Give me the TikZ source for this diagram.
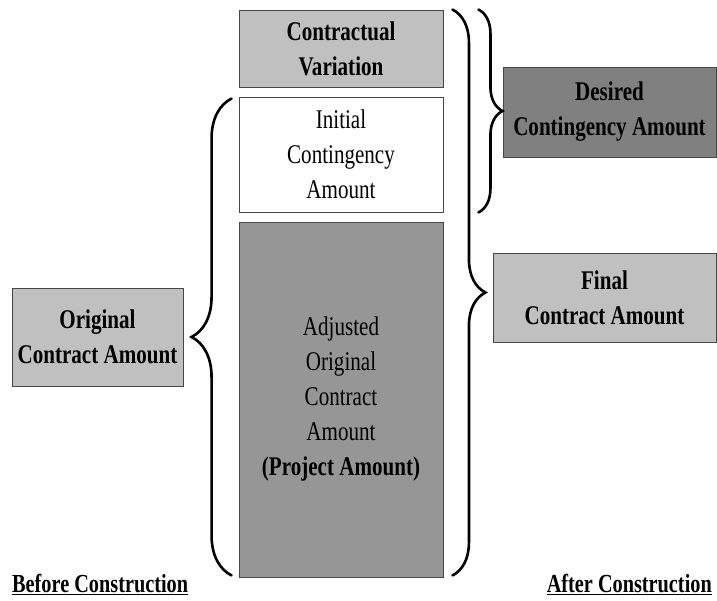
\documentclass[tikz,border=0pt]{standalone}
\usepackage{fontspec}
\setmainfont[FakeStretch=0.78]{Liberation Serif}
\usetikzlibrary{decorations.pathreplacing}
\definecolor{lightfill}{RGB}{192,192,192}
\definecolor{midfill}{RGB}{150,150,150}
\definecolor{darkfill}{RGB}{128,128,128}
\definecolor{edgegray}{RGB}{70,70,70}
\tikzset{
  box/.style={draw=edgegray, line width=0.9pt, inner sep=0pt, align=center,
    font=\fontsize{27}{35}\selectfont},
  bracepath/.style={decorate, line width=2.6pt, line cap=round},
  phase/.style={inner sep=0pt, font=\fontsize{26}{30}\selectfont\bfseries}
}
\begin{document}
\begin{tikzpicture}[x=1pt,y=-1pt]
            \useasboundingbox (0,0) rectangle (717,601);
            \node[box, fill=lightfill, minimum width=204pt, minimum height=77pt] (var) at (341,48.5){\textbf{Contractual}\\\textbf{Variation}};
            \node[box, fill=white, minimum width=204pt, minimum height=115pt] (init) at (341,154.5){Initial\\Contingency\\Amount};
            \node[box, fill=midfill, minimum width=204pt, minimum height=355pt] (adj) at (341,399.5){Adjusted\\Original\\Contract\\Amount\\\textbf{(Project Amount)}};
            \node[box, fill=darkfill, minimum width=213pt, minimum height=90pt] (desired) at (609.5,112){\textbf{Desired}\\\textbf{Contingency Amount}};
            \node[box, fill=lightfill, minimum width=223pt, minimum height=89pt] (final) at (604.5,297.5){\textbf{Final}\\\textbf{Contract Amount}};
            \node[box, fill=lightfill, minimum width=171pt, minimum height=98pt] (orig) at (97.5,337){\textbf{Original}\\\textbf{Contract Amount}};
            \node[phase, anchor=base west] (before) at (12,592){\underline{Before Construction}};
            \node[phase, anchor=base east] (after) at (712,592){\underline{After Construction}};
            \draw[bracepath, decoration={brace, amplitude=40pt}] ([xshift=-7pt,yshift=2pt]adj.south west) -- ([xshift=-7pt,yshift=-2pt]init.north west);
            \draw[bracepath, decoration={brace, amplitude=33pt}] ([xshift=9pt]var.north east) -- ([xshift=9pt,yshift=2pt]adj.south east);
            \draw[bracepath, decoration={brace, amplitude=24pt}] ([xshift=35pt]var.north east) -- ([xshift=35pt]init.south east);
        \end{tikzpicture}
\end{document}
